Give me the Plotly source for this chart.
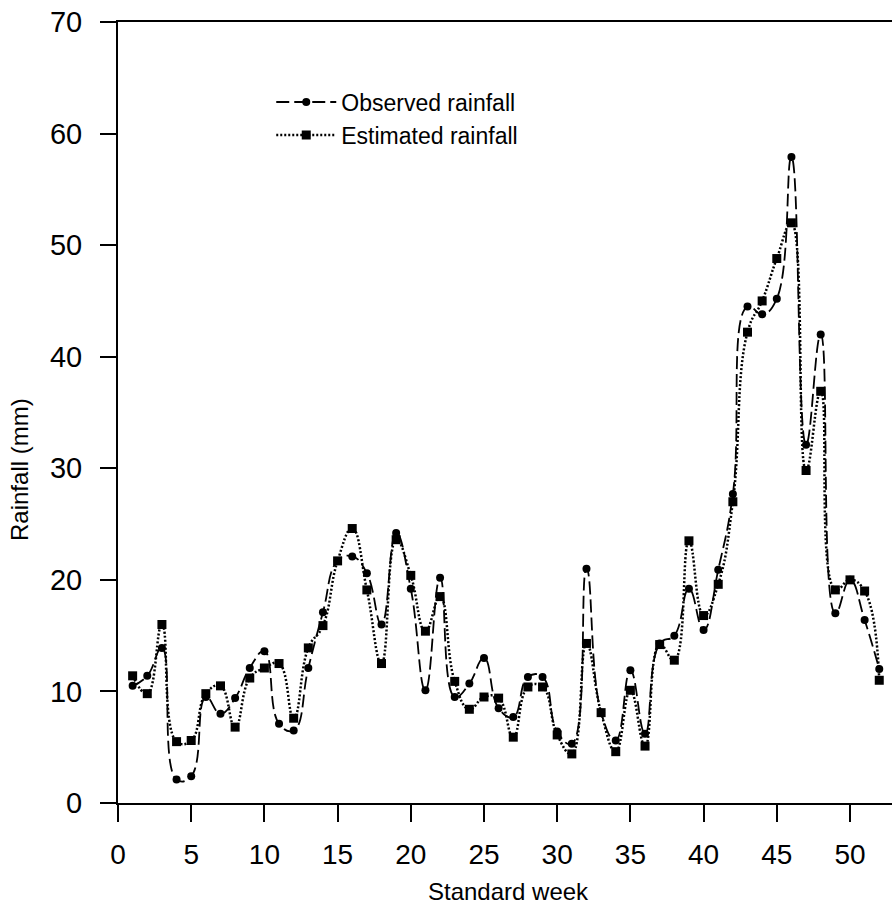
import plotly.graph_objects as go

weeks = list(range(1, 53))
observed = [10.5, 11.4, 13.9, 2.1, 2.4, 9.5, 8.0, 9.4, 12.1, 13.6,
            7.1, 6.5, 12.1, 17.1, 21.7, 22.1, 20.6, 16.0, 24.2, 19.2,
            10.1, 20.2, 9.5, 10.7, 13.0, 8.5, 7.7, 11.3, 11.3, 6.4,
            5.3, 21.0, 8.1, 5.6, 11.9, 6.2, 14.3, 15.0, 19.2, 15.5,
            20.9, 27.7, 44.5, 43.8, 45.2, 57.9, 32.1, 42.0, 17.0, 20.0,
            16.4, 12.0]
estimated = [11.4, 9.8, 16.0, 5.5, 5.6, 9.8, 10.5, 6.8, 11.2, 12.1,
             12.5, 7.6, 13.9, 15.9, 21.7, 24.6, 19.1, 12.5, 23.6, 20.4,
             15.4, 18.5, 10.9, 8.4, 9.5, 9.4, 5.9, 10.4, 10.4, 6.1,
             4.4, 14.3, 8.1, 4.6, 10.1, 5.1, 14.2, 12.8, 23.5, 16.8,
             19.6, 27.0, 42.2, 45.0, 48.8, 52.0, 29.8, 36.9, 19.1, 20.0,
             19.0, 11.0]
x_ticks = list(range(0, 51, 5))
y_ticks = list(range(0, 71, 10))

FONT = "Liberation Sans, Arial, Helvetica, sans-serif"

fig = go.Figure()
fig.add_trace(go.Scatter(
    x=weeks, y=observed, name="Observed rainfall", mode="lines+markers",
    line=dict(color="black", width=1.8, dash="13px,5px", shape="spline", smoothing=1.3),
    marker=dict(symbol="circle", size=8, color="black"),
))
fig.add_trace(go.Scatter(
    x=weeks, y=estimated, name="Estimated rainfall", mode="lines+markers",
    line=dict(color="black", width=2.5, dash="2px,2px", shape="spline", smoothing=1.3),
    marker=dict(symbol="square", size=9, color="black"),
))

fig.update_layout(
    width=892, height=907,
    margin=dict(l=118, r=0, t=22, b=104),
    paper_bgcolor="white", plot_bgcolor="white",
    font=dict(family=FONT, color="black"),
    showlegend=True,
    legend=dict(x=0.198, y=0.925, xanchor="left", yanchor="top",
                font=dict(size=23, family=FONT), bgcolor="rgba(0,0,0,0)",
                itemwidth=60, tracegroupgap=0),
    xaxis=dict(range=[0, 52.87], tickvals=x_ticks, ticks="outside", ticklen=17,
               tickwidth=2, tickcolor="black", showline=True, linecolor="black",
               linewidth=2, mirror=True, showgrid=False, zeroline=False,
               tickfont=dict(size=28, family=FONT), ticklabelstandoff=8),
    yaxis=dict(range=[0, 70], tickvals=y_ticks, ticks="outside", ticklen=16,
               tickwidth=2, tickcolor="black", showline=True, linecolor="black",
               linewidth=2, showgrid=False, zeroline=False,
               tickfont=dict(size=29, family=FONT), ticklabelstandoff=12),
    annotations=[
        dict(text="Standard week", xref="paper", yref="paper", x=0.505, y=-0.1127,
             xanchor="center", yanchor="middle", showarrow=False,
             font=dict(size=24, family=FONT)),
        dict(text="Rainfall (mm)", xref="paper", yref="paper", x=-0.1266, y=0.4264,
             xanchor="center", yanchor="middle", textangle=-90, showarrow=False,
             font=dict(size=24, family=FONT)),
    ],
)

fig.write_html("out.html")
